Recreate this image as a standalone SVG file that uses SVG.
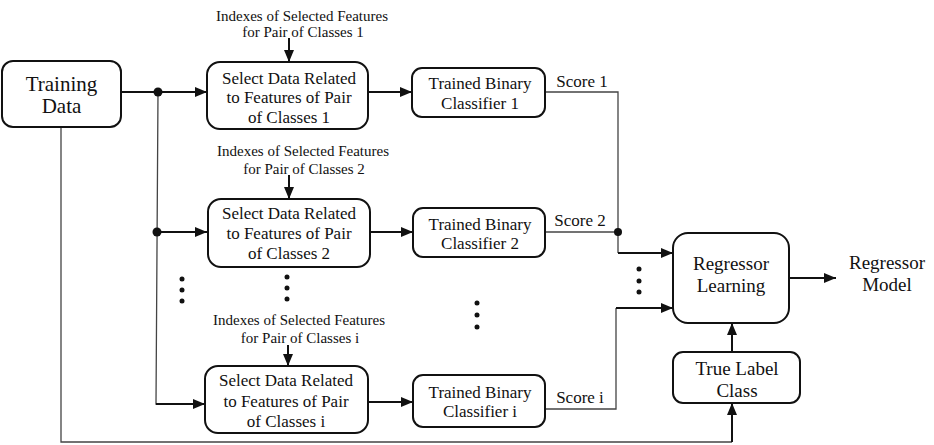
<svg xmlns="http://www.w3.org/2000/svg" width="934" height="445" viewBox="0 0 934 445" font-family="'Liberation Serif', serif">
  <style>
    .box { fill: #fff; stroke: #111; stroke-width: 2; }
    .t { font-family: 'Liberation Serif', serif; fill: #111; text-anchor: middle; }
    .big { font-size: 21px; }
    .mid { font-size: 19px; }
    .std { font-size: 17px; }
    .sm { font-size: 15px; }
    .w { fill: none; stroke: #111; stroke-width: 2; }
    .thin { fill: none; stroke: #444; stroke-width: 1.3; }
    .dot { fill: #111; }
  </style>
  <defs>
    <marker id="arr" viewBox="0 0 12 10" refX="12" refY="5" markerWidth="12" markerHeight="10" markerUnits="userSpaceOnUse" orient="auto">
      <path d="M0,0 L12,5 L0,10 Z" fill="#111"/>
    </marker>
  </defs>

  <!-- connectors -->
  <g id="connectors">
    <!-- training data fan-out -->
    <line class="w" x1="121" y1="92" x2="207" y2="92" marker-end="url(#arr)"/>
    <polyline class="thin" points="158,92 156,404 160,404"/>
    <line class="w" x1="156" y1="404" x2="205" y2="404" marker-end="url(#arr)"/>
    <line class="w" x1="157" y1="232" x2="207" y2="232" marker-end="url(#arr)"/>
    <circle class="dot" cx="158" cy="92" r="4.5"/>
    <circle class="dot" cx="157" cy="232" r="4.5"/>

    <!-- feature index inputs -->
    <line class="w" x1="289" y1="38" x2="289" y2="62" marker-end="url(#arr)"/>
    <line class="w" x1="289" y1="175" x2="289" y2="199" marker-end="url(#arr)"/>
    <line class="w" x1="288" y1="345" x2="288" y2="366" marker-end="url(#arr)"/>

    <!-- select -> classifier -->
    <line class="w" x1="368" y1="92" x2="412" y2="92" marker-end="url(#arr)"/>
    <line class="w" x1="371" y1="232" x2="413" y2="232" marker-end="url(#arr)"/>
    <line class="w" x1="368" y1="402" x2="413" y2="402" marker-end="url(#arr)"/>

    <!-- scores -> regressor -->
    <polyline class="thin" points="545,92 618,92 618,253"/>
    <line class="w" x1="618" y1="253" x2="673" y2="253" marker-end="url(#arr)"/>
    <line class="thin" x1="545" y1="232" x2="618" y2="232"/>
    <circle class="dot" cx="618" cy="232" r="4"/>
    <polyline class="thin" points="545,409 616,409 616,308"/>
    <line class="w" x1="616" y1="308" x2="673" y2="308" marker-end="url(#arr)"/>

    <!-- regressor output and label input -->
    <line class="w" x1="789" y1="278" x2="836" y2="278" marker-end="url(#arr)"/>
    <line class="w" x1="732" y1="352" x2="732" y2="323" marker-end="url(#arr)"/>
    <polyline class="thin" points="61,127 61,442 732,442"/>
    <line class="w" x1="732" y1="442" x2="732" y2="403" marker-end="url(#arr)"/>

    <!-- ellipses -->
    <circle class="dot" cx="182" cy="279" r="2.5"/>
    <circle class="dot" cx="182" cy="290" r="2.5"/>
    <circle class="dot" cx="182" cy="301" r="2.5"/>
    <circle class="dot" cx="287" cy="277" r="2.5"/>
    <circle class="dot" cx="287" cy="288" r="2.5"/>
    <circle class="dot" cx="287" cy="299" r="2.5"/>
    <circle class="dot" cx="477" cy="303" r="2.5"/>
    <circle class="dot" cx="477" cy="315" r="2.5"/>
    <circle class="dot" cx="477" cy="327" r="2.5"/>
    <circle class="dot" cx="639" cy="269" r="2.5"/>
    <circle class="dot" cx="639" cy="281" r="2.5"/>
    <circle class="dot" cx="639" cy="292" r="2.5"/>
  </g>

  <g id="training-data">
    <rect class="box" x="2" y="61" width="119" height="66" rx="11"/>
    <text class="t big" x="61.5" y="91">Training</text>
    <text class="t big" x="61.5" y="113">Data</text>
  </g>

  <g id="indexes-1">
    <text class="t sm" x="302" y="21">Indexes of Selected Features</text>
    <text class="t sm" x="303" y="37">for Pair of Classes 1</text>
  </g>
  <g id="select-1">
    <rect class="box" x="207" y="62" width="161" height="67" rx="13"/>
    <text class="t std" x="289" y="84">Select Data Related</text>
    <text class="t std" x="289" y="103">to Features of Pair</text>
    <text class="t std" x="289" y="123">of Classes 1</text>
  </g>
  <g id="classifier-1">
    <rect class="box" x="412" y="68" width="133" height="49" rx="10"/>
    <text class="t std" x="480" y="89">Trained Binary</text>
    <text class="t std" x="480" y="109">Classifier 1</text>
  </g>
  <g id="score-1"><text class="t std" x="582" y="87">Score 1</text></g>

  <g id="indexes-2">
    <text class="t sm" x="303" y="156">Indexes of Selected Features</text>
    <text class="t sm" x="304" y="174">for Pair of Classes 2</text>
  </g>
  <g id="select-2">
    <rect class="box" x="208" y="199" width="162" height="68" rx="13"/>
    <text class="t std" x="289" y="219">Select Data Related</text>
    <text class="t std" x="289" y="239">to Features of Pair</text>
    <text class="t std" x="289" y="259">of Classes 2</text>
  </g>
  <g id="classifier-2">
    <rect class="box" x="413" y="208" width="132" height="49" rx="10"/>
    <text class="t std" x="480" y="230">Trained Binary</text>
    <text class="t std" x="480" y="249">Classifier 2</text>
  </g>
  <g id="score-2"><text class="t std" x="580" y="226">Score 2</text></g>

  <g id="indexes-i">
    <text class="t sm" x="299" y="325">Indexes of Selected Features</text>
    <text class="t sm" x="300" y="343">for Pair of Classes i</text>
  </g>
  <g id="select-i">
    <rect class="box" x="205" y="366" width="163" height="67" rx="13"/>
    <text class="t std" x="286" y="386">Select Data Related</text>
    <text class="t std" x="286" y="407">to Features of Pair</text>
    <text class="t std" x="286" y="427">of Classes i</text>
  </g>
  <g id="classifier-i">
    <rect class="box" x="413" y="375" width="132" height="52" rx="10"/>
    <text class="t std" x="480" y="398">Trained Binary</text>
    <text class="t std" x="480" y="417">Classifier i</text>
  </g>
  <g id="score-i"><text class="t std" x="580" y="403">Score i</text></g>

  <g id="regressor-learning">
    <rect class="box" x="673" y="233" width="116" height="90" rx="15"/>
    <text class="t mid" x="731" y="270">Regressor</text>
    <text class="t mid" x="731" y="292">Learning</text>
  </g>
  <g id="regressor-model">
    <text class="t mid" x="887" y="269">Regressor</text>
    <text class="t mid" x="887" y="291">Model</text>
  </g>
  <g id="true-label">
    <rect class="box" x="673" y="352" width="127" height="51" rx="10"/>
    <text class="t mid" x="737" y="375">True Label</text>
    <text class="t mid" x="737" y="397">Class</text>
  </g>
</svg>
